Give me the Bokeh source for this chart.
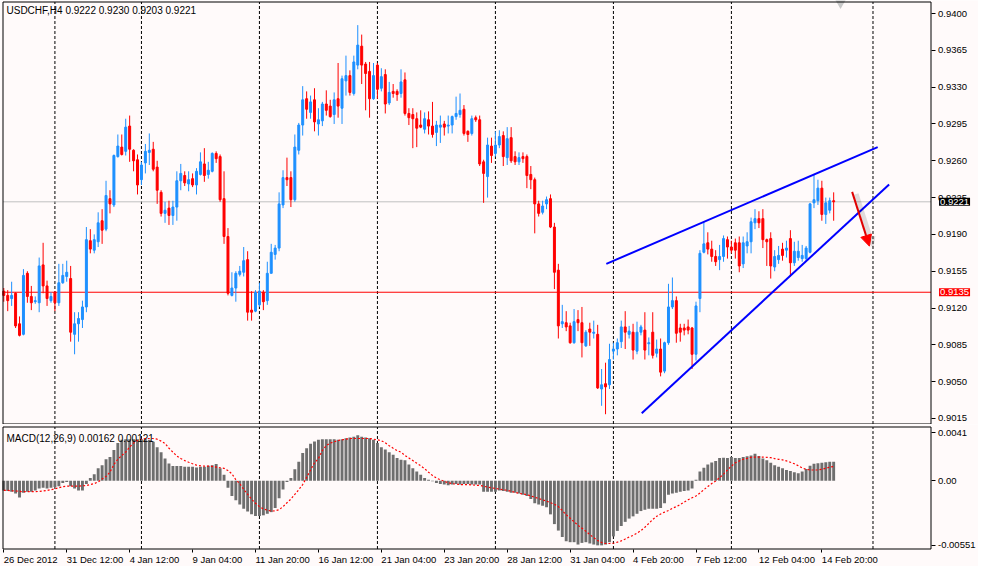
from bokeh.plotting import figure
from bokeh.models import (ColumnDataSource, Label, LabelSet, FixedTicker,
                          PrintfTickFormatter, Range1d, Arrow, NormalHead)
from bokeh.layouts import column
from bokeh.core.properties import value
from bokeh.embed import file_html
from bokeh.resources import INLINE

symbol = "USDCHF,H4"

opens = [
    .9136, .9132, .9129, .9134, .9105, .9095, .9153, .9131, .9126, .9125,
    .9161, .9141, .9127, .9135, .9125, .9144, .9150, .9148, .9095, .9105,
    .9109, .9121, .9184, .9175, .9183, .9203, .9195, .9224, .9218, .9264,
    .9273, .9269, .9293, .9270, .9261, .9242, .9258, .9268, .9271, .9254,
    .9230, .9210, .9215, .9208, .9216, .9241, .9246, .9238, .9243, .9237,
    .9247, .9257, .9247, .9250, .9267, .9264, .9224, .9188, .9132, .9139,
    .9152, .9154, .9166, .9118, .9117, .9123, .9135, .9127, .9153, .9171,
    .9177, .9218, .9244, .9244, .9223, .9270, .9294, .9319, .9306, .9318,
    .9295, .9298, .9314, .9312, .9304, .9319, .9310, .9336, .9341, .9324,
    .9351, .9369, .9352, .9345, .9319, .9351, .9329, .9342, .9315, .9326,
    .9326, .9324, .9337, .9305, .9304, .9300, .9294, .9290, .9299, .9293,
    .9287, .9292, .9295, .9293, .9294, .9302, .9304, .9309, .9288, .9286,
    .9301, .9299, .9259, .9245, .9274, .9267, .9275, .9284, .9263, .9282,
    .9264, .9259, .9264, .9264, .9247, .9242, .9219, .9211, .9219, .9224,
    .9197, .9156, .9105, .9106, .9103, .9087, .9109, .9106, .9084, .9100,
    .9096, .9095, .9043, .9048, .9047, .9079, .9081, .9088, .9102, .9095,
    .9097, .9079, .9097, .9099, .9086, .9097, .9077, .9081, .9060, .9087,
    .9121, .9127, .9101, .9101, .9102, .9101, .9076, .9129, .9173, .9182,
    .9176, .9169, .9166, .9169, .9185, .9178, .9182, .9182, .9162, .9179,
    .9183, .9201, .9205, .9205, .9185, .9186, .9159, .9166, .9176, .9175,
    .9186, .9163, .9168, .9167, .9167, .9173, .9220, .9222, .9234, .9209,
    .9213, .9222]

highs = [
    .9139, .9137, .9145, .9135, .9112, .9157, .9155, .9141, .9131, .9168,
    .9182, .9146, .9135, .9136, .9162, .9162, .9165, .9160, .9116, .9116,
    .9127, .9197, .9195, .9190, .9211, .9214, .9241, .9232, .9266, .9285,
    .9285, .9300, .9303, .9271, .9266, .9259, .9276, .9286, .9278, .9260,
    .9232, .9221, .9222, .9222, .9250, .9257, .9250, .9250, .9248, .9253,
    .9268, .9272, .9259, .9268, .9269, .9266, .9250, .9196, .9154, .9155,
    .9160, .9178, .9174, .9136, .9137, .9144, .9137, .9164, .9181, .9180,
    .9230, .9251, .9263, .9250, .9285, .9296, .9331, .9326, .9322, .9329,
    .9310, .9316, .9327, .9318, .9325, .9353, .9341, .9360, .9346, .9360,
    .9389, .9380, .9354, .9354, .9353, .9353, .9348, .9347, .9335, .9333,
    .9328, .9347, .9344, .9310, .9310, .9306, .9308, .9306, .9307, .9316,
    .9298, .9303, .9298, .9303, .9303, .9321, .9324, .9313, .9289, .9303,
    .9303, .9303, .9261, .9282, .9282, .9288, .9289, .9288, .9292, .9292,
    .9269, .9268, .9268, .9266, .9255, .9244, .9222, .9222, .9226, .9228,
    .9201, .9162, .9123, .9117, .9106, .9119, .9118, .9121, .9099, .9106,
    .9108, .9104, .9062, .9068, .9086, .9087, .9091, .9108, .9117, .9103,
    .9105, .9107, .9104, .9116, .9092, .9116, .9090, .9091, .9088, .9143,
    .9149, .9131, .9105, .9105, .9109, .9102, .9126, .9175, .9202, .9192,
    .9184, .9175, .9180, .9189, .9188, .9184, .9186, .9188, .9188, .9192,
    .9206, .9214, .9212, .9214, .9186, .9192, .9175, .9179, .9182, .9184,
    .9194, .9183, .9184, .9180, .9179, .9220, .9247, .9242, .9241, .9225,
    .9225, .9230]

lows = [
    .9126, .9117, .9122, .9101, .9093, .9094, .9125, .9118, .9124, .9116,
    .9134, .9122, .9125, .9117, .9122, .9143, .9145, .9088, .9076, .9088,
    .9101, .9116, .9172, .9172, .9178, .9181, .9193, .9210, .9216, .9263,
    .9265, .9265, .9259, .9250, .9228, .9237, .9248, .9256, .9250, .9219,
    .9207, .9201, .9199, .9199, .9203, .9232, .9236, .9231, .9235, .9228,
    .9246, .9240, .9243, .9249, .9258, .9221, .9181, .9132, .9131, .9126,
    .9150, .9150, .9108, .9108, .9116, .9121, .9118, .9123, .9153, .9166,
    .9174, .9215, .9236, .9216, .9221, .9266, .9284, .9300, .9300, .9288,
    .9284, .9293, .9303, .9301, .9295, .9301, .9295, .9322, .9322, .9322,
    .9347, .9333, .9308, .9301, .9318, .9319, .9326, .9305, .9313, .9320,
    .9317, .9320, .9303, .9294, .9272, .9273, .9291, .9286, .9285, .9282,
    .9274, .9277, .9284, .9286, .9286, .9299, .9301, .9284, .9278, .9284,
    .9297, .9255, .9220, .9225, .9258, .9264, .9272, .9255, .9256, .9258,
    .9256, .9256, .9258, .9234, .9233, .9191, .9207, .9209, .9214, .9196,
    .9138, .9091, .9101, .9098, .9086, .9086, .9098, .9073, .9083, .9084,
    .9091, .9043, .9027, .9019, .9043, .9071, .9075, .9082, .9081, .9091,
    .9071, .9076, .9094, .9071, .9075, .9072, .9073, .9055, .9058, .9085,
    .9119, .9087, .9088, .9094, .9095, .9062, .9070, .9116, .9172, .9171,
    .9164, .9160, .9156, .9164, .9167, .9172, .9167, .9154, .9158, .9172,
    .9172, .9195, .9196, .9177, .9160, .9148, .9155, .9162, .9165, .9168,
    .9150, .9160, .9165, .9164, .9165, .9172, .9215, .9218, .9203, .9200,
    .9210, .9203]

closes = [
    .9132, .9127, .9132, .9103, .9094, .9151, .9131, .9125, .9127, .9160,
    .9141, .9129, .9131, .9125, .9144, .9151, .9154, .9097, .9105, .9110,
    .9121, .9185, .9176, .9185, .9201, .9194, .9227, .9219, .9265, .9274,
    .9266, .9292, .9271, .9260, .9237, .9256, .9269, .9270, .9252, .9232,
    .9210, .9213, .9208, .9216, .9241, .9248, .9239, .9242, .9237, .9250,
    .9259, .9246, .9251, .9267, .9262, .9223, .9188, .9134, .9139, .9153,
    .9155, .9165, .9116, .9116, .9135, .9136, .9126, .9153, .9173, .9177,
    .9219, .9244, .9242, .9223, .9273, .9294, .9318, .9309, .9316, .9297,
    .9299, .9314, .9308, .9302, .9318, .9312, .9338, .9341, .9325, .9354,
    .9370, .9351, .9343, .9319, .9341, .9328, .9340, .9314, .9325, .9324,
    .9323, .9335, .9305, .9301, .9300, .9291, .9292, .9300, .9293, .9285,
    .9294, .9294, .9292, .9294, .9302, .9305, .9308, .9286, .9285, .9300,
    .9299, .9257, .9248, .9275, .9265, .9275, .9283, .9264, .9281, .9260,
    .9259, .9263, .9262, .9246, .9242, .9219, .9210, .9217, .9223, .9197,
    .9154, .9103, .9107, .9102, .9087, .9107, .9106, .9087, .9097, .9097,
    .9097, .9044, .9047, .9045, .9071, .9081, .9087, .9102, .9097, .9098,
    .9080, .9097, .9102, .9080, .9087, .9075, .9081, .9059, .9087, .9121,
    .9127, .9096, .9097, .9099, .9099, .9076, .9122, .9172, .9181, .9176,
    .9169, .9164, .9169, .9186, .9178, .9175, .9175, .9160, .9182, .9183,
    .9202, .9205, .9201, .9185, .9183, .9160, .9169, .9170, .9170, .9177,
    .9163, .9174, .9174, .9170, .9177, .9219, .9223, .9234, .9209, .9220,
    .9222, .9221]

macd = [
    -0.00083, -0.00088, -0.00094, -0.0011, -0.00144, -0.00102, -0.00094, -0.00094, -0.00083, -0.00066,
    -0.00061, -0.00066, -0.00061, -0.00055, -0.00047, -0.00019, -0.00011, -0.00047, -0.00066, -0.00083,
    -0.00083, -0.00028, 0.00022, 0.00055, 0.00105, 0.00132, 0.00182, 0.00201, 0.00262, 0.0032,
    0.00348, 0.00353, 0.00353, 0.00353, 0.00353, 0.00353, 0.00353, 0.00348, 0.00331, 0.00284,
    0.00243, 0.00188, 0.00146, 0.00124, 0.00124, 0.00124, 0.00119, 0.00119, 0.00119, 0.00113,
    0.00119, 0.00119, 0.00127, 0.00132, 0.00141, 0.00105, 0.0005, -0.00061, -0.0013, -0.00166,
    -0.00204, -0.0024, -0.00262, -0.00287, -0.00301, -0.00301, -0.00295, -0.00282, -0.00268, -0.00232,
    -0.00149, -0.00075, -0.00011, 0.00022, 0.00097, 0.0016, 0.00235, 0.00276, 0.00315, 0.00334,
    0.00348, 0.00353, 0.00353, 0.00353, 0.00353, 0.00348, 0.00353, 0.00362, 0.00367, 0.00375,
    0.00386, 0.00375, 0.00367, 0.00362, 0.00348, 0.0032, 0.00284, 0.00265, 0.00243, 0.00221,
    0.00193, 0.00179, 0.00174, 0.00138, 0.00105, 0.00077, 0.0005, 0.00022, 0.00008, -0.00006,
    -0.00019, -0.00028, -0.00033, -0.00039, -0.00033, -0.00028, -0.00033, -0.00028, -0.00028, -0.00033,
    -0.00033, -0.00033, -0.00094, -0.00094, -0.00094, -0.00094, -0.00083, -0.00088, -0.00094, -0.00102,
    -0.00102, -0.0011, -0.00121, -0.0013, -0.00157, -0.00193, -0.00204, -0.00213, -0.00226, -0.00287,
    -0.0037, -0.00425, -0.0048, -0.00516, -0.00524, -0.00524, -0.00544, -0.0053, -0.00524, -0.00535,
    -0.00544, -0.00551, -0.00551, -0.00544, -0.00524, -0.00475, -0.00428, -0.00386, -0.00351, -0.00323,
    -0.00304, -0.00282, -0.00259, -0.00248, -0.0024, -0.0024, -0.0024, -0.00232, -0.00193, -0.00121,
    -0.0011, -0.00102, -0.00094, -0.00088, -0.00083, -0.00066, 0.00008, 0.00077, 0.0011, 0.00138,
    0.00155, 0.00168, 0.00193, 0.00196, 0.00193, 0.00201, 0.00193, 0.00193, 0.00201, 0.00207,
    0.00215, 0.00229, 0.0021, 0.00188, 0.00174, 0.00152, 0.00132, 0.00119, 0.00105, 0.00091,
    0.00083, 0.00072, 0.00063, 0.00077, 0.00099, 0.00128, 0.00145, 0.00148, 0.00152, 0.00157,
    0.0016, 0.00162]

signal = [
    -0.00083, -0.00083, -0.00086, -0.00088, -0.00091, -0.00094, -0.00094, -0.00094, -0.00094, -0.00091,
    -0.00088, -0.00083, -0.00077, -0.00069, -0.00061, -0.00052, -0.00047, -0.00047, -0.00047, -0.00047,
    -0.00044, -0.00041, -0.00033, -0.00025, -0.00011, 0.00014, 0.00036, 0.00072, 0.00138, 0.00182,
    0.00215, 0.00243, 0.00287, 0.0032, 0.00342, 0.00353, 0.00359, 0.00359, 0.00359, 0.00353,
    0.00337, 0.00317, 0.00276, 0.00243, 0.0021, 0.00188, 0.00171, 0.00157, 0.00144, 0.00132,
    0.00127, 0.00124, 0.00124, 0.00121, 0.00116, 0.0011, 0.00105, 0.00086, 0.00058, 0.00008,
    -0.00025, -0.00075, -0.00116, -0.00157, -0.00193, -0.00221, -0.0024, -0.00251, -0.00259, -0.00257,
    -0.00248, -0.00221, -0.00188, -0.00157, -0.00116, -0.00077, -0.00033, 0.00028, 0.00091, 0.00152,
    0.00188, 0.00257, 0.00298, 0.0032, 0.00331, 0.00342, 0.00348, 0.00353, 0.00359, 0.00359,
    0.00359, 0.00359, 0.00359, 0.00359, 0.00353, 0.00348, 0.0034, 0.00323, 0.00298, 0.00276,
    0.00257, 0.00243, 0.00215, 0.00193, 0.00171, 0.00149, 0.00127, 0.00102, 0.00072, 0.00044,
    0.00022, 0.00008, -0.00006, -0.00017, -0.00025, -0.0003, -0.00033, -0.00033, -0.00033, -0.00036,
    -0.00039, -0.00041, -0.00047, -0.00055, -0.00061, -0.00066, -0.00072, -0.00077, -0.00083, -0.00091,
    -0.00099, -0.00108, -0.00113, -0.00119, -0.0013, -0.00141, -0.00152, -0.00163, -0.00174, -0.00188,
    -0.00201, -0.00221, -0.00255, -0.00290, -0.00320, -0.00350, -0.00380, -0.00405, -0.00430, -0.00460,
    -0.00485, -0.00510, -0.00527, -0.00535, -0.00535, -0.00533, -0.00524, -0.00513, -0.00497, -0.0048,
    -0.00466, -0.00447, -0.00425, -0.00397, -0.00364, -0.00331, -0.00304, -0.00284, -0.00268, -0.00254,
    -0.00235, -0.00221, -0.00204, -0.00182, -0.00163, -0.00146, -0.0013, -0.00105, -0.00077, -0.0005,
    -0.00025, -0.00003, 0.00025, 0.00055, 0.00091, 0.00124, 0.00152, 0.00168, 0.00182, 0.0019,
    0.00199, 0.00201, 0.00201, 0.00201, 0.00199, 0.00196, 0.00188, 0.00182, 0.00177, 0.00168,
    0.00157, 0.00144, 0.00127, 0.00108, 0.00097, 0.00091, 0.00091, 0.00091, 0.00097, 0.00105,
    0.00116, 0.00121]

time_ticks = [0, 16, 32, 48, 64, 80, 96, 112, 128, 144, 160, 176, 192, 208]
time_labels = ["26 Dec 2012", "31 Dec 12:00", "4 Jan 12:00", "9 Jan 04:00", "11 Jan 20:00",
               "16 Jan 12:00", "21 Jan 04:00", "23 Jan 20:00", "28 Jan 12:00", "31 Jan 04:00",
               "4 Feb 20:00", "7 Feb 12:00", "12 Feb 04:00", "14 Feb 20:00"]
week_starts = [13, 35, 65, 95, 125, 155, 185, 221]
price_ticks = [0.9015, 0.9050, 0.9085, 0.9120, 0.9155, 0.9190, 0.9225, 0.9260,
               0.9295, 0.9330, 0.9365, 0.9400]
macd_ticks = [-0.00551, 0.0, 0.0041]
macd_tick_labels = ["-0.00551", "0.00", "0.0041"]
level_price = 0.9135
upper_line_x = [153.2, 222.2]
upper_line_y = [0.9162, 0.9273]
lower_line_x = [162.2, 225.1]
lower_line_y = [0.9020, 0.92375]
arrow_x = [215.7, 220.1]
arrow_y = [0.92304, 0.91788]
shift_marker_x = 212.75

# ------------------------------------------------------------ layout / style
BG = "#FFFAFA"
FONT = "Liberation Sans"
FS_AX = "9.5px"
FS_TXT = "10px"
BULL = "#1E90FF"
BEAR = "#FF0000"
W = 978
MAIN_H = 424
MACD_H = 142
BOX_L, BOX_R = 2.5, 930.5
MAIN_T, MAIN_B = 1.5, 423.5
MACD_T, MACD_B = 2.5, 124.5
X0, X1 = -0.2, 235.75
P_LO, P_HI = 0.90097, 0.94110
M_LO, M_HI = -0.00582, 0.00457

xpp = (X1 - X0) / (BOX_R - BOX_L)
x_range = Range1d(X0 - BOX_L * xpp, X0 + (W - BOX_L) * xpp)
ppp = (P_HI - P_LO) / (MAIN_B - MAIN_T)
p_range = Range1d(P_LO - (MAIN_H - MAIN_B) * ppp, P_HI + MAIN_T * ppp)
mpp = (M_HI - M_LO) / (MACD_B - MACD_T)
m_range = Range1d(M_LO - (MACD_H - MACD_B) * mpp, M_HI + MACD_T * mpp)

n = len(closes)
idx = list(range(n))
colors = [BULL if c >= o else BEAR for o, c in zip(opens, closes)]
src = ColumnDataSource(dict(
    x=idx, h=highs, l=lows,
    top=[max(o, c) for o, c in zip(opens, closes)],
    bot=[min(o, c) for o, c in zip(opens, closes)],
    color=colors))


def style_axis(ax, tick_out=4):
    ax.axis_line_color = None
    ax.major_tick_line_color = "black"
    ax.major_tick_out = tick_out
    ax.major_tick_in = 0
    ax.minor_tick_line_color = None
    ax.major_label_text_font = FONT
    ax.major_label_text_font_size = FS_AX
    ax.major_label_text_color = "black"
    ax.major_label_standoff = 3


def make_fig(h, yr, **kw):
    f = figure(width=W, height=h, x_range=x_range, y_range=yr, tools="",
               toolbar_location=None, output_backend="svg",
               y_axis_location="right", background_fill_color=BG,
               border_fill_color=BG, min_border_left=0, min_border_right=0,
               min_border_top=0, min_border_bottom=0, **kw)
    f.outline_line_color = None
    f.grid.visible = False
    ax = f.yaxis[0]
    ax.fixed_location = X1
    style_axis(ax)
    return f


# ------------------------------------------------------------ price panel
p = make_fig(MAIN_H, p_range, x_axis_location=None)
p.yaxis.ticker = FixedTicker(ticks=price_ticks)
p.yaxis.formatter = PrintfTickFormatter(format="%.4f")

p.segment(x0=week_starts, y0=[P_LO] * len(week_starts), x1=week_starts,
          y1=[P_HI] * len(week_starts), line_color="black", line_dash="3 2", line_width=1)
p.segment(x0=[X0], y0=[closes[-1]], x1=[X1], y1=[closes[-1]], line_color="#C0C0C0", line_width=1)
p.segment(x0=[X0], y0=[level_price], x1=[X1], y1=[level_price], line_color="#FF0000", line_width=1)

p.segment(x0="x", y0="l", x1="x", y1="h", source=src, line_color="color", line_width=1)
p.vbar(x="x", width=0.5, top="top", bottom="bot", source=src,
       fill_color="color", line_color="color", line_width=1)

p.line(upper_line_x, upper_line_y, line_color="#0000FF", line_width=2)
p.line(lower_line_x, lower_line_y, line_color="#0000FF", line_width=2)

p.add_layout(Arrow(end=NormalHead(size=11, fill_color="black", fill_alpha=0.12, line_color=None),
                   x_start=arrow_x[0] + 4 * xpp, y_start=arrow_y[0] - 2 * ppp,
                   x_end=arrow_x[1] + 4 * xpp, y_end=arrow_y[1] - 2 * ppp,
                   line_color="black", line_alpha=0.12, line_width=5))
p.add_layout(Arrow(end=NormalHead(size=11, fill_color="#FF0000", line_color="#FF0000", line_width=1),
                   x_start=arrow_x[0], y_start=arrow_y[0], x_end=arrow_x[1], y_end=arrow_y[1],
                   line_color="#E00000", line_width=2))

p.scatter([shift_marker_x], [P_HI], marker="inverted_triangle", size=12,
          fill_color="#C8C8C8", line_color=None)

p.quad(left=[X0], right=[X1], bottom=[P_LO], top=[P_HI], fill_color=None,
       line_color="black", line_width=1)

p.add_layout(Label(x=6, y=MAIN_H - 4, x_units="screen", y_units="screen",
                   text=f"{symbol}  {opens[-1]:.4f} {highs[-1]:.4f} {lows[-1]:.4f} {closes[-1]:.4f}",
                   text_font=FONT, text_font_size=FS_TXT, text_color="black",
                   text_baseline="top", text_align="left"))
for lvl, bg in ((closes[-1], "black"), (level_price, "#FF0000")):
    p.add_layout(Label(x=X1 + 8 * xpp, y=lvl, text=f"{lvl:.4f}", text_font=FONT,
                       text_font_size=FS_AX, text_color="white", background_fill_color=bg,
                       text_baseline="middle", text_align="left", padding=1))

# ------------------------------------------------------------ MACD panel
q = make_fig(MACD_H, m_range)
q.yaxis.ticker = FixedTicker(ticks=macd_ticks)
q.yaxis.major_label_overrides = {t: s for t, s in zip(macd_ticks, macd_tick_labels)}
xa = q.xaxis[0]
style_axis(xa, tick_out=3)
xa.fixed_location = M_LO
xa.ticker = FixedTicker(ticks=time_ticks)
xa.major_label_overrides = {t: "" for t in time_ticks}

q.segment(x0=week_starts, y0=[M_LO] * len(week_starts), x1=week_starts,
          y1=[M_HI] * len(week_starts), line_color="black", line_dash="3 2", line_width=1)
q.vbar(x=idx, width=0.74, top=macd, bottom=0, fill_color="#6E6E6E", line_color=None)
q.line(idx, signal, line_color="#FF0000", line_dash="2 2", line_width=1.2)
q.quad(left=[X0], right=[X1], bottom=[M_LO], top=[M_HI], fill_color=None,
       line_color="black", line_width=1)

q.add_layout(Label(x=6, y=MACD_H - 8, x_units="screen", y_units="screen",
                   text=f"MACD(12,26,9) {macd[-1]:.5f} {signal[-1]:.5f}",
                   text_font=FONT, text_font_size=FS_TXT, text_color="black",
                   text_baseline="top", text_align="left"))

tsrc = ColumnDataSource(dict(x=time_ticks, y=[M_LO - 5 * mpp] * len(time_ticks), t=time_labels))
q.add_layout(LabelSet(x="x", y="y", text="t", source=tsrc, text_font=value(FONT),
                      text_font_size=FS_AX, text_color="black",
                      text_align="left", text_baseline="top"))

layout = column(p, q)
open("out.html", "w").write(file_html(layout, INLINE))
